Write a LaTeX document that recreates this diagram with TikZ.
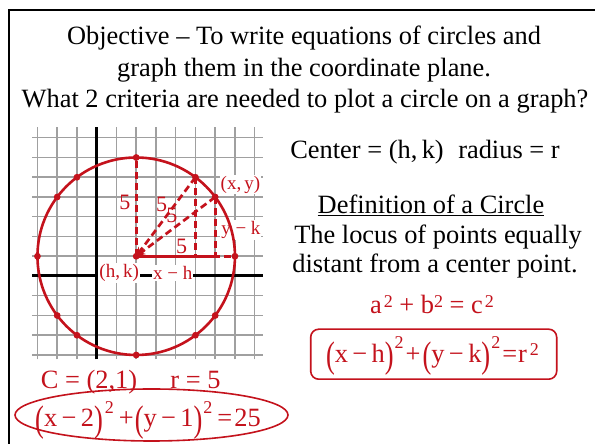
\documentclass[tikz,border=0pt]{standalone}
\usepackage{fontspec}
\setmainfont{Liberation Serif}
\usetikzlibrary{arrows.meta,shapes.geometric}
\definecolor{cred}{RGB}{196,18,28}
\definecolor{cgrid}{RGB}{160,160,160}
\newcommand{\BP}[1]{\raisebox{-5pt}{\scalebox{1}[1.4]{#1}}}
\newcommand{\SQ}[1]{\raisebox{#1}{\fontsize{18}{18}\selectfont 2}}
\newcommand{\MN}{\,−\,}
\tikzset{
  maintext/.style={font=\fontsize{26.4}{30}\selectfont, inner sep=0pt, anchor=base},
  redtext/.style={maintext, text=cred},
  gridl/.style={draw=cgrid, line width=1.5pt},
  axisl/.style={draw=black, line width=3pt},
  dsh/.style={draw=cred, line width=2.7pt, dash pattern=on 7pt off 4pt},
  glabel/.style={font=\fontsize{19}{19}\selectfont, text=cred, inner sep=1pt},
  flabel/.style={font=\fontsize{22}{22}\selectfont, text=cred, inner sep=0pt},
  wlabel/.style={glabel, fill=white},
}
\begin{document}
\begin{tikzpicture}[x=1pt,y=1pt]
\useasboundingbox (0,0) rectangle (595,444);
\fill[white] (0,0) rectangle (595,444);
% frame
\draw[line width=2pt] (9,0) -- (9,434) -- (595,434);
% title
\node[maintext] (t1) at (304,399) {Objective – To write equations of circles and};
\node[maintext] (t2) at (304,367.5) {graph them in the coordinate plane.};
\node[maintext] (t3) at (305,336) {What 2 criteria are needed to plot a circle on a graph?};
% right side
\node[maintext] (ctr) at (425,285.7) {Center = (h,\,k)\hspace{0.55em}radius = r};
\node[maintext] (def) at (431,230) {\underline{Definition of a Circle}};
\node[maintext] (l1) at (438,200) {The locus of points equally};
\node[maintext] (l2) at (435,171.3) {distant from a center point.};
\node[redtext] (pyth) at (432,130.7) {a\hspace{2pt}\SQ{6pt} + b\SQ{6pt} = c\hspace{2pt}\SQ{6pt}};
\node[draw=cred, line width=1.6pt, rounded corners=8pt, minimum width=246pt, minimum height=50pt] (eqbox) at (433.7,89.8) {};
\node[redtext] (eq1) at (432.5,81.3) {\BP{(}x\MN h\BP{)}\hspace{1pt}\SQ{14pt}\hspace{2pt}+\hspace{2pt}\BP{(}y\MN k\BP{)}\hspace{1pt}\SQ{14pt}\hspace{2pt}=\hspace{1pt}r\hspace{3pt}\SQ{7pt}};
% bottom left
\node[redtext] (cc) at (89,55.7) {C = (2,1)};
\node[redtext] (rr) at (195.5,55.7) {r = 5};
\node[ellipse, draw=cred, line width=1.6pt, minimum width=273pt, minimum height=52pt, inner sep=0pt] (ell) at (151.5,29) {};
\node[redtext] (eq2) at (148,17.3) {\BP{(}x\MN 2\BP{)}\hspace{2pt}\SQ{13pt}\hspace{5pt}+\hspace{1pt}\BP{(}y\MN 1\BP{)}\hspace{1pt}\SQ{13pt}\hspace{5pt}=\hspace{2pt}25};
% graph
\begin{scope}[shift={(96.7,168)}, x=19.75pt, y=19.75pt]
  \foreach \i in {-3,...,8} { \draw[gridl] (\i,-4.22) -- (\i,7.53); }
  \foreach \j in {-4,...,7} { \draw[gridl] (-3.27,\j) -- (8.43,\j); }
  \draw[axisl] (-3.27,0) -- (8.43,0);
  \draw[axisl] (0,-4.22) -- (0,7.53);
  \coordinate (C) at (2,1);
  \coordinate (T) at (2,6);
  \coordinate (R) at (7,1);
  \coordinate (P1) at (5,5);
  \coordinate (P2) at (6,4);
  \coordinate (F1) at (5,1);
  \coordinate (F2) at (6,1);
  % labels with white background
  \node[wlabel] (xy) at (7.28,4.62) {(x,\,y)};
  \node[wlabel] (yk) at (7.3,2.33) {y − k};
  \node[wlabel] (hk) at (1.14,0.15) {(h,\,k)};
  \node[wlabel] (xh) at (3.85,0.15) {x − h};
  % circle
  \draw[cred, line width=2.6pt] (C) circle[radius=5];
  % dashed construction
  \draw[dsh] (C) -- (T);
  \draw[dsh] (C) -- (R);
  \draw[dsh] (P1) -- (F1);
  \draw[dsh] (P2) -- (F2);
  \draw[dsh, -{Stealth[length=9pt,width=8pt]}] (P1) -- (C);
  \draw[dsh, -{Stealth[length=9pt,width=8pt]}] (P2) -- (C);
  \draw[cred, line width=2.7pt] (C) -- (F2);
  % dots
  \foreach \x/\y in {2/6,5/5,6/4,7/1,6/-2,5/-3,2/-4,-1/-3,-2/-2,-3/1,-2/4,-1/5,2/1}
    \fill[cred] (\x,\y) circle[radius=3.4pt];
  % 5 labels
  \node[flabel] (f1) at (1.43,3.71) {5};
  \node[flabel] (f2) at (3.29,3.6) {5};
  \node[flabel] (f3) at (3.8,3.09) {5};
  \node[flabel] (f4) at (4.3,1.52) {5};
\end{scope}
\end{tikzpicture}
\end{document}
